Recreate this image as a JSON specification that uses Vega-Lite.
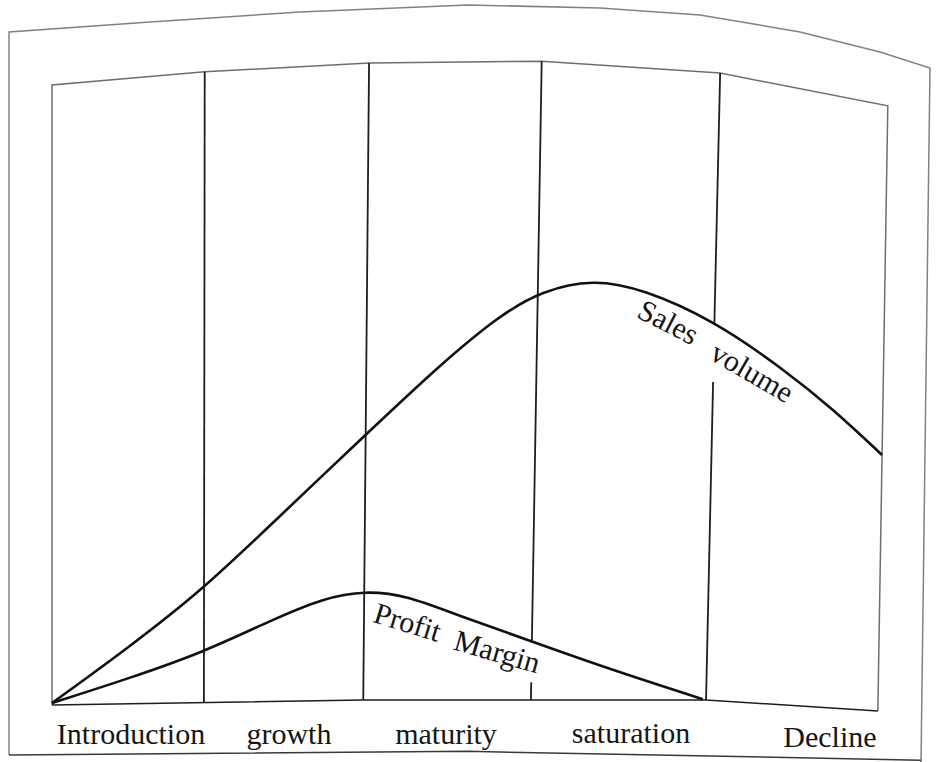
{
  "$schema": "https://vega.github.io/schema/vega-lite/v6.json",
  "width": 936,
  "height": 762,
  "padding": 0,
  "autosize": {"type": "none"},
  "background": "white",
  "config": {"view": {"stroke": null}},
  "datasets": {
    "frame": [
      {"part": "outer", "i": 0, "x": -5.18, "y": -8.28},
      {"part": "outer", "i": 1, "x": -5.18, "y": 106.85},
      {"part": "outer", "i": 2, "x": 11.81, "y": 108.44},
      {"part": "outer", "i": 3, "x": 29.88, "y": 110.03},
      {"part": "outer", "i": 4, "x": 50.12, "y": 111.15},
      {"part": "outer", "i": 5, "x": 66.02, "y": 110.67},
      {"part": "outer", "i": 6, "x": 78.07, "y": 109.55},
      {"part": "outer", "i": 7, "x": 90.12, "y": 106.85},
      {"part": "outer", "i": 8, "x": 99.76, "y": 103.66},
      {"part": "outer", "i": 9, "x": 105.78, "y": 101.11},
      {"part": "outer", "i": 10, "x": 104.7, "y": -9.39},
      {"part": "outerBottom", "i": 0, "x": -5.18, "y": -8.28},
      {"part": "outerBottom", "i": 1, "x": 50.12, "y": -7.7},
      {"part": "outerBottom", "i": 2, "x": 104.7, "y": -9.1},
      {"part": "inner", "i": 0, "x": 0, "y": -0.32},
      {"part": "inner", "i": 1, "x": 0, "y": 98.4},
      {"part": "inner", "i": 2, "x": 18.4, "y": 100.5},
      {"part": "inner", "i": 3, "x": 38.2, "y": 101.9},
      {"part": "inner", "i": 4, "x": 59.0, "y": 102.2},
      {"part": "inner", "i": 5, "x": 80.5, "y": 100.3},
      {"part": "inner", "i": 6, "x": 100.7, "y": 95.1},
      {"part": "inner", "i": 7, "x": 99.5, "y": -1.27},
      {"part": "innerBottom", "i": 0, "x": 0, "y": -0.32},
      {"part": "innerBottom", "i": 1, "x": 37.5, "y": 0.48},
      {"part": "innerBottom", "i": 2, "x": 78.8, "y": 0.48},
      {"part": "innerBottom", "i": 3, "x": 99.5, "y": -1.27}
    ],
    "dividers": [
      {"x": 18.4, "y": 100.5, "x2": 18.3, "y2": 0},
      {"x": 38.2, "y": 101.9, "x2": 37.5, "y2": 0.48},
      {"x": 59.0, "y": 102.2, "x2": 57.82, "y2": 9.9},
      {"x": 57.74, "y": 3.3, "x2": 57.7, "y2": 0.48},
      {"x": 80.5, "y": 100.3, "x2": 79.8, "y2": 60.2},
      {"x": 79.65, "y": 51.1, "x2": 78.8, "y2": 0.48}
    ],
    "curves": [
      {"series": "Sales volume", "x": 0, "y": 0},
      {"series": "Sales volume", "x": 9.0, "y": 8.6},
      {"series": "Sales volume", "x": 18.3, "y": 18.2},
      {"series": "Sales volume", "x": 26.6, "y": 28.7},
      {"series": "Sales volume", "x": 37.7, "y": 42.6},
      {"series": "Sales volume", "x": 46.7, "y": 53.8},
      {"series": "Sales volume", "x": 54.0, "y": 61.8},
      {"series": "Sales volume", "x": 59.0, "y": 65.6},
      {"series": "Sales volume", "x": 65.2, "y": 67.5},
      {"series": "Sales volume", "x": 71.2, "y": 65.9},
      {"series": "Sales volume", "x": 79.6, "y": 61.0},
      {"series": "Sales volume", "x": 88.1, "y": 53.2},
      {"series": "Sales volume", "x": 94.1, "y": 46.8},
      {"series": "Sales volume", "x": 100, "y": 39.5},
      {"series": "Profit Margin", "x": 0, "y": 0},
      {"series": "Profit Margin", "x": 9.0, "y": 3.8},
      {"series": "Profit Margin", "x": 18.3, "y": 8.1},
      {"series": "Profit Margin", "x": 26.6, "y": 13.3},
      {"series": "Profit Margin", "x": 32.7, "y": 16.7},
      {"series": "Profit Margin", "x": 37.7, "y": 17.9},
      {"series": "Profit Margin", "x": 42.8, "y": 17.1},
      {"series": "Profit Margin", "x": 48.8, "y": 14.0},
      {"series": "Profit Margin", "x": 57.8, "y": 9.8},
      {"series": "Profit Margin", "x": 66.9, "y": 5.5},
      {"series": "Profit Margin", "x": 78.4, "y": 0.6}
    ],
    "stages": [
      {"stage": "Introduction", "x": 9.52, "y": -6.53},
      {"stage": "growth", "x": 28.55, "y": -6.53},
      {"stage": "maturity", "x": 47.47, "y": -6.45},
      {"stage": "saturation", "x": 69.76, "y": -6.3},
      {"stage": "Decline", "x": 93.73, "y": -7.0}
    ],
    "labels": [
      {"label": "Sales", "x": 74.2, "y": 60.5},
      {"label": "volume", "x": 84.3, "y": 52.5},
      {"label": "Profit", "x": 42.8, "y": 12.7},
      {"label": "Margin", "x": 53.6, "y": 8.0}
    ]
  },
  "encoding": {
    "x": {"field": "x", "type": "quantitative", "axis": null, "scale": {"domain": [-6.265, 106.506], "nice": false, "zero": false}},
    "y": {"field": "y", "type": "quantitative", "axis": null, "scale": {"domain": [-9.395, 111.94], "nice": false, "zero": false}}
  },
  "layer": [
    {
      "data": {"name": "frame"},
      "mark": {"type": "line", "strokeWidth": 1.5},
      "encoding": {
        "detail": {"field": "part"},
        "order": {"field": "i", "type": "quantitative"},
        "color": {"field": "part", "type": "nominal", "legend": null,
          "scale": {"domain": ["outer", "outerBottom", "inner", "innerBottom"], "range": ["#7c828c", "#3a3a3a", "#6a6e76", "#1e1e1e"]}}
      }
    },
    {
      "data": {"name": "dividers"},
      "mark": {"type": "rule", "color": "#1e1e1e", "strokeWidth": 1.8},
      "encoding": {
        "x2": {"field": "x2"},
        "y2": {"field": "y2"}
      }
    },
    {
      "data": {"name": "curves"},
      "mark": {"type": "line", "interpolate": "basis", "color": "#111111", "strokeWidth": 2.6},
      "encoding": {
        "detail": {"field": "series"}
      }
    },
    {
      "data": {"name": "stages"},
      "mark": {"type": "text", "font": "Liberation Serif", "fontSize": 30, "color": "#161616", "align": "center", "baseline": "alphabetic"},
      "encoding": {"text": {"field": "stage"}}
    },
    {
      "data": {"name": "labels"},
      "transform": [{"filter": "datum.label === 'Sales'"}],
      "mark": {"type": "text", "font": "Liberation Serif", "fontSize": 30, "color": "#161616", "align": "center", "baseline": "middle", "angle": 27},
      "encoding": {"text": {"field": "label"}}
    },
    {
      "data": {"name": "labels"},
      "transform": [{"filter": "datum.label === 'volume'"}],
      "mark": {"type": "text", "font": "Liberation Serif", "fontSize": 30, "color": "#161616", "align": "center", "baseline": "middle", "angle": 30},
      "encoding": {"text": {"field": "label"}}
    },
    {
      "data": {"name": "labels"},
      "transform": [{"filter": "datum.label === 'Profit'"}],
      "mark": {"type": "text", "font": "Liberation Serif", "fontSize": 30, "color": "#161616", "align": "center", "baseline": "middle", "angle": 17},
      "encoding": {"text": {"field": "label"}}
    },
    {
      "data": {"name": "labels"},
      "transform": [{"filter": "datum.label === 'Margin'"}],
      "mark": {"type": "text", "font": "Liberation Serif", "fontSize": 30, "color": "#161616", "align": "center", "baseline": "middle", "angle": 16},
      "encoding": {"text": {"field": "label"}}
    }
  ]
}
